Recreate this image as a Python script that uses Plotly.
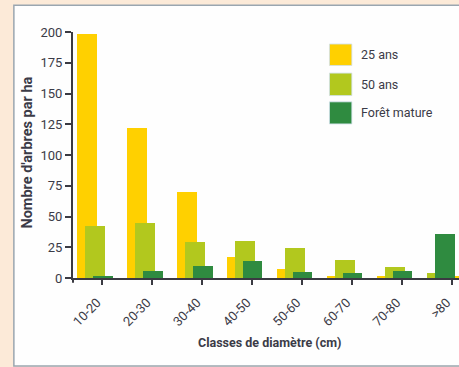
import plotly.graph_objects as go

# Diameter classes and tree counts per hectare
classes = ["10-20", "20-30", "30-40", "40-50", "50-60", "60-70", "70-80", ">80"]
stand_25 = [198, 122, 70, 17, 7, 2, 2, 1]
stand_50 = [42, 45, 29, 30, 24, 15, 9, 4]
stand_mature = [2, 6, 10, 14, 5, 4, 6, 36]

series_names = ["25 ans", "50 ans", "Forêt mature"]
colors = ["#FFD000", "#B2C81E", "#2F8B40"]

W, H = 459, 367
ML, MR, MT, MB = 72.5, 0, 32.3, 89.3
PW, PH = W - ML - MR, H - MT - MB

TXT = "#3b3b47"
FONT = "Roboto, Liberation Sans, sans-serif"


def px_x(px):
    return (px - ML) / PW


def px_y(py):
    return (H - MB - py) / PH


# bar slots inside each class (category units), overlapping bars
bw = 0.39
off_25 = [-0.5] * 7 + [-0.18]
off_50 = [-0.334] * 7 + [-0.5]
off_mat = [-0.18] * 7 + [-0.334]

fig = go.Figure()
for name, vals, offs, col in zip(series_names, [stand_25, stand_50, stand_mature],
                                  [off_25, off_50, off_mat], colors):
    fig.add_trace(go.Bar(
        x=classes, y=vals, name=name, offset=offs, width=bw,
        marker=dict(color=col, line=dict(width=0)), showlegend=False,
    ))

shapes = [
    # framed white panel
    dict(type="rect", xref="paper", yref="paper",
         x0=px_x(13.3), x1=px_x(470), y0=px_y(365.5), y1=px_y(5.7),
         fillcolor="#FEFEFE", line=dict(color="#9aa6b0", width=1.5), layer="below"),
    # tick at the origin, below the x axis
    dict(type="line", xref="paper", yref="paper",
         x0=0, x1=0, y0=0, y1=px_y(282.5), line=dict(color="#3a3a42", width=2)),
]
annotations = []

# legend squares and labels
leg_rows = [(44.3, 65.7), (73.3, 95.7), (102, 124)]
for (y0, y1), name, col in zip(leg_rows, series_names, colors):
    shapes.append(dict(type="rect", xref="paper", yref="paper",
                       x0=px_x(329.3), x1=px_x(351.7), y0=px_y(y1), y1=px_y(y0),
                       fillcolor=col, line=dict(color="#cfe0ea", width=0.8)))
    annotations.append(dict(xref="paper", yref="paper", x=px_x(358.5), y=px_y((y0 + y1) / 2),
                            text=name, showarrow=False, xanchor="left", yanchor="middle",
                            font=dict(family=FONT, size=12.5, color=TXT)))

# axis titles
annotations.append(dict(xref="paper", yref="paper", x=px_x(27), y=px_y(153),
                        text="<b>Nombre d'arbres par ha</b>", textangle=-90, showarrow=False,
                        xanchor="center", yanchor="middle",
                        font=dict(family=FONT, size=14.5, color=TXT)))
annotations.append(dict(xref="paper", yref="paper", x=px_x(269), y=px_y(342),
                        text="<b>Classes de diamètre (cm)</b>", showarrow=False,
                        xanchor="center", yanchor="middle",
                        font=dict(family=FONT, size=12.5, color=TXT)))

fig.update_layout(
    width=W, height=H, autosize=False,
    margin=dict(l=ML, r=MR, t=MT, b=MB, pad=0),
    paper_bgcolor="#FCEAD8", plot_bgcolor="rgba(0,0,0,0)",
    barmode="overlay", bargap=0,
    shapes=shapes, annotations=annotations,
    font=dict(family=FONT, color=TXT),
)
fig.update_xaxes(
    type="category", range=[(ML - 101.7) / 50, (W - 101.7) / 50],
    showgrid=False, zeroline=False,
    showline=True, linecolor="#3a3a42", linewidth=2,
    ticks="outside", ticklen=5, tickwidth=2, tickcolor="#3a3a42",
    tickangle=-45, ticklabelshift=-5, ticklabelstandoff=5,
    tickfont=dict(family=FONT, size=13, color=TXT),
)
fig.update_yaxes(
    range=[0, 200], tickvals=[0, 25, 50, 75, 100, 125, 150, 175, 200],
    showgrid=False, zeroline=False,
    showline=True, linecolor="#3a3a42", linewidth=2,
    ticks="outside", ticklen=6, tickwidth=2, tickcolor="#3a3a42",
    tickfont=dict(family=FONT, size=13, color=TXT),
)

fig.write_html("out.html")
